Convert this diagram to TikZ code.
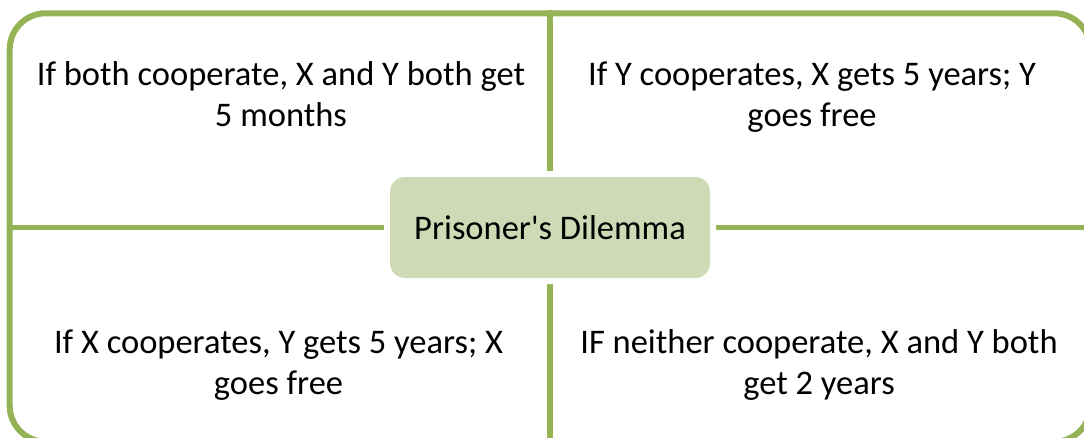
\documentclass[tikz,border=0pt]{standalone}
\usepackage{fontspec}
\newfontfamily\calfont{Carlito}
\definecolor{lg}{RGB}{148,179,84}
\definecolor{bf}{RGB}{205,218,181}
\tikzset{
  frame/.style={draw=lg, line width=6pt, rounded corners=36pt, inner sep=0pt,
    minimum width=1080.6pt, minimum height=428.4pt},
  sepline/.style={draw=lg, line width=5.5pt},
  quad/.style={font=\calfont\fontsize{34.5}{41.5}\selectfont, align=center,
    inner sep=0pt, text=black},
  hub/.style={font=\calfont\fontsize{34.5}{41.5}\selectfont, fill=bf,
    rounded corners=15pt, minimum width=320pt, minimum height=101pt,
    inner sep=0pt, preaction={draw=white, line width=12pt}}
}
\begin{document}
\begin{tikzpicture}[x=1pt,y=-1pt]
\useasboundingbox (0,0) rectangle (1084,437);
\clip (0,0) rectangle (1084,437);
\node[frame] (outer) at (550,227.5) {};
\draw[sepline] (outer.north) -- (outer.south);
\draw[sepline] (outer.west) -- (outer.east);
\node[hub] (hub) at (550,227.5) {Prisoner's Dilemma};
\node[quad] (q1) at (281,97.5) {\strut If both cooperate, X and Y both get\\5 months\strut};
\node[quad] (q2) at (812,97.5) {\strut If Y cooperates, X gets 5 years; Y\\goes free\strut};
\node[quad] (q3) at (278.5,365.5) {\strut If X cooperates, Y gets 5 years; X\\goes free\strut};
\node[quad] (q4) at (819,365.5) {\strut IF neither cooperate, X and Y both\\get 2 years\strut};
\end{tikzpicture}
\end{document}
